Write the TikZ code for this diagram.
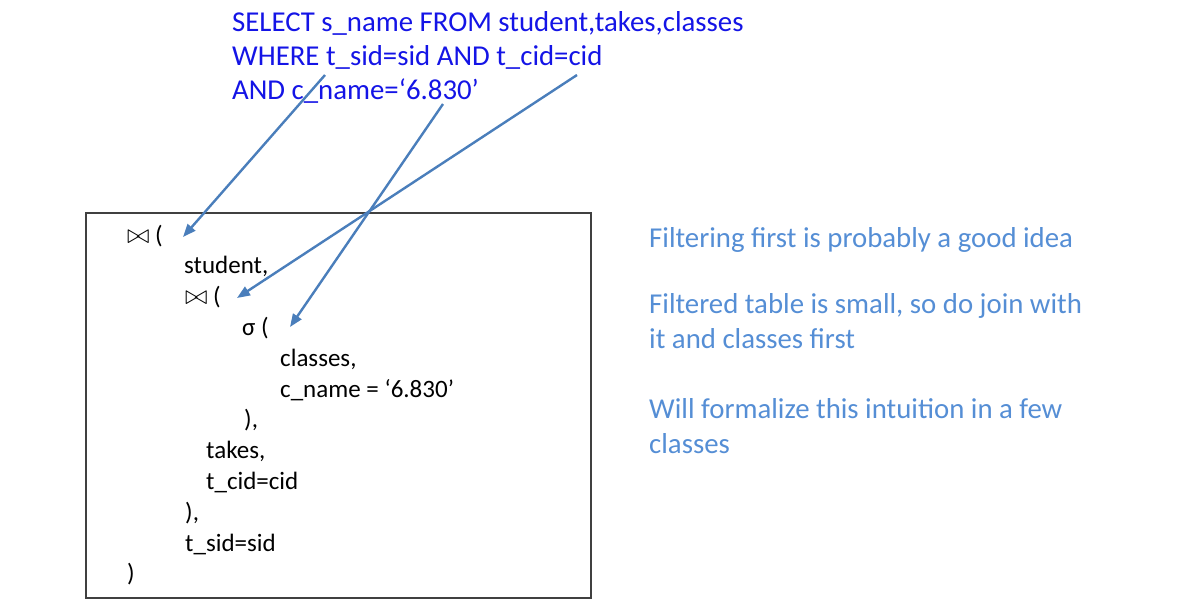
\documentclass[tikz,border=0pt]{standalone}
\usepackage{fontspec}
\setmainfont{Carlito}
\usepackage{xcolor}
\usepackage{tikz}
\usetikzlibrary{arrows.meta}

\definecolor{sqlblue}{RGB}{20,20,230}
\definecolor{noteblue}{RGB}{85,142,213}
\definecolor{arrowblue}{RGB}{74,126,187}

\begin{document}
\begin{tikzpicture}[x=1pt, y=-1pt,
    sql/.style={anchor=base west, inner sep=0pt, text=sqlblue, font=\fontsize{28.8}{34}\selectfont},
    plan/.style={anchor=base west, inner sep=0pt, font=\fontsize{25}{30}\selectfont},
    note/.style={anchor=base west, inner sep=0pt, text=noteblue, font=\fontsize{28.8}{35}\selectfont},
    planbox/.style={rectangle, draw=black!75, line width=1.2pt, minimum width=505pt, minimum height=385pt, inner sep=0pt},
    arrow/.style={arrowblue, line width=2.4pt, -{Triangle[length=13pt,width=10pt]}}]

    \useasboundingbox (0,0) rectangle (1180,603);

    \node [sql] (select) at (232,31) {SELECT s\_name FROM student,takes,classes};
    \node [sql] (where) at (232,65) {WHERE t\_sid=sid AND t\_cid=cid};
    \node [sql] (cname) at (232,99) {AND c\_name=‘6.830’};

    \node [planbox] (box) at (338.5,405.5) {};
    \node [plan] (join1) at (127,243) {\scalebox{1.1}{$\bowtie$} (};
    \node [plan] (stud) at (184,273.8) {student,};
    \node [plan] (join2) at (185,304.6) {\scalebox{1.1}{$\bowtie$} (};
    \node [plan] (sigma) at (242,335.4) {σ (};
    \node [plan] (cls) at (280,366.2) {classes,};
    \node [plan] (cond) at (280,397) {c\_name = ‘6.830’};
    \node [plan] (close1) at (244,427.8) {),};
    \node [plan] (tks) at (206,458.6) {takes,};
    \node [plan] (tcid) at (206,489.4) {t\_cid=cid};
    \node [plan] (close2) at (185,520.2) {),};
    \node [plan] (tsid) at (185,551) {t\_sid=sid};
    \node [plan] (close3) at (127,581.8) {)};

    \node [note] (idea) at (649,247) {Filtering first is probably a good idea};
    \node [note] (small) at (649,313) {Filtered table is small, so do join with};
    \node [note] (smallb) at (649,348) {it and classes first};
    \node [note] (later) at (649,418) {Will formalize this intuition in a few};
    \node [note] (laterb) at (649,453) {classes};

    \coordinate (fromsid) at (325,75);
    \coordinate (fromcid) at (577,75);
    \coordinate (fromname) at (443,104);
    \coordinate (tojoin1) at (183,237);
    \coordinate (tojoin2) at (237,298);
    \coordinate (tosigma) at (290,327);

    \draw [arrow] (fromsid) -- (tojoin1);
    \draw [arrow] (fromcid) -- (tojoin2);
    \draw [arrow] (fromname) -- (tosigma);
\end{tikzpicture}
\end{document}
